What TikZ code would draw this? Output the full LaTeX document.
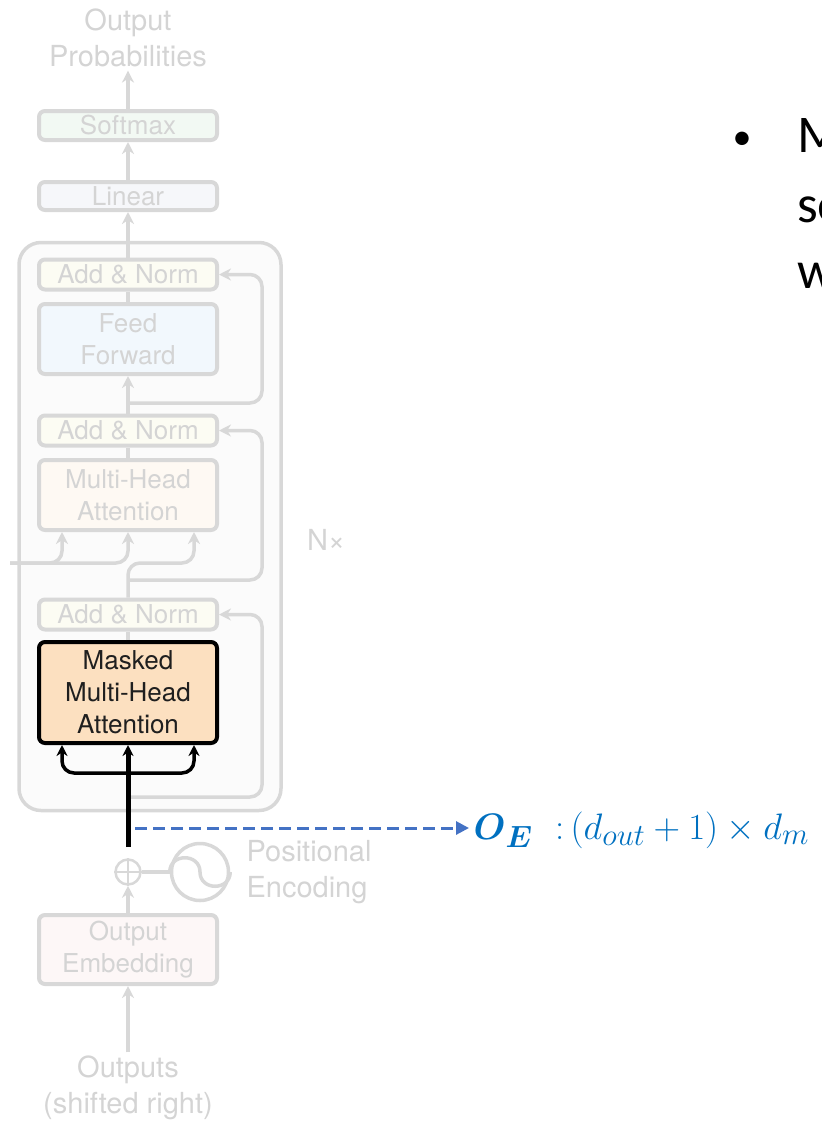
\documentclass[tikz,border=0pt]{standalone}
\usepackage{amsmath}
\usepackage{fontspec}
\newfontfamily\helv{TeX Gyre Heros}
\newfontfamily\cali{Carlito}
\usetikzlibrary{arrows.meta}

\definecolor{fadeline}{RGB}{216,216,216}
\definecolor{fadetext}{RGB}{212,212,212}
\definecolor{stackfill}{RGB}{251,251,251}
\definecolor{softfill}{RGB}{242,249,243}
\definecolor{linfill}{RGB}{246,247,250}
\definecolor{normfill}{RGB}{252,252,243}
\definecolor{ffnfill}{RGB}{242,248,253}
\definecolor{attfill}{RGB}{254,249,243}
\definecolor{embfill}{RGB}{253,247,247}
\definecolor{maskfill}{RGB}{252,224,192}
\definecolor{oeblue}{RGB}{0,112,192}
\definecolor{dashblue}{RGB}{68,114,196}

\begin{document}
\begin{tikzpicture}[x=1pt,y=-1pt,
    fbox/.style={draw=fadeline,line width=4pt,rounded corners=6pt,minimum width=178pt,
      inner sep=0pt,align=center,text=fadetext,font=\helv\fontsize{26}{32}\selectfont},
    ftext/.style={text=fadetext,align=center,font=\helv\fontsize{29}{36}\selectfont},
    fline/.style={draw=fadeline,line width=3.5pt,rounded corners=12pt},
    farrow/.style={fline,-{Stealth[length=12pt,width=12pt]}},
    barrow/.style={line width=3.5pt,rounded corners=12pt,-{Stealth[length=11pt,width=11pt]}}]
    \useasboundingbox (0,0) rectangle (822,1122);
    \clip (0,0) rectangle (822,1122);

    % decoder stack, faded
    \node[draw=fadeline,fill=stackfill,line width=3.5pt,rounded corners=22pt,
      minimum width=262pt,minimum height=568pt] (stack) at (150,526.5) {};
    \node[ftext] (probs) at (128,38) {Output\\Probabilities};
    \node[fbox,fill=softfill,minimum height=29pt] (softmax) at (128,125.5) {Softmax};
    \node[fbox,fill=linfill,minimum height=28pt] (linear) at (128,196) {Linear};
    \node[fbox,fill=normfill,minimum height=30pt] (normA) at (128,274.5) {Add \& Norm};
    \node[fbox,fill=ffnfill,minimum height=70pt] (ffn) at (128,339) {Feed\\Forward};
    \node[fbox,fill=normfill,minimum height=30pt] (normB) at (128,430.5) {Add \& Norm};
    \node[fbox,fill=attfill,minimum height=70pt] (mha) at (128,495) {Multi-Head\\Attention};
    \node[fbox,fill=normfill,minimum height=30pt] (normC) at (128,614.5) {Add \& Norm};
    \node[fbox,fill=maskfill,draw=black,line width=4pt,text=black!88,minimum height=101pt]
      (masked) at (128,692.5) {Masked\\Multi-Head\\Attention};
    \node[ftext] (nx) at (326,540) {N×};

    % embedding and positional encoding
    \node[draw=fadeline,circle,line width=2.5pt,minimum size=25pt,inner sep=0pt] (plus) at (128,872) {};
    \node[draw=fadeline,circle,line width=3.5pt,minimum size=57pt,inner sep=0pt] (wave) at (200,872) {};
    \node[ftext,align=left,anchor=west] (posenc) at (243,872) {Positional\\Encoding};
    \node[fbox,fill=embfill,minimum height=69pt] (embed) at (128,949.5) {Output\\Embedding};
    \node[ftext] (outputs) at (128,1088) {Outputs\\(shifted right)};

    \coordinate (resA) at (128,403);
    \coordinate (encin) at (10,563);
    \coordinate (bus) at (128,563);
    \coordinate (resB) at (128,580);
    \coordinate (resC) at (128,797);
    \coordinate (tap) at (128,847);
    \coordinate (fork) at (128,773);
    \coordinate (oetap) at (135,828);

    % faded connectors
    \draw[farrow] (softmax.north) -- (probs.south);
    \draw[farrow] (linear) -- (softmax);
    \draw[farrow] (normA) -- (linear);
    \draw[fline] (ffn) -- (normA);
    \draw[farrow] (normB) -- (ffn);
    \draw[farrow] (resA) -| ([xshift=43pt]normA.east) -- (normA.east);
    \draw[fline] (mha) -- (normB);
    \draw[farrow] (encin) -| ([xshift=-66pt]mha.south);
    \draw[farrow] (encin) -| (mha.south);
    \draw[farrow] (normC.north) -- (bus) -| ([xshift=66pt]mha.south);
    \draw[farrow] (resB) -| ([xshift=43pt]normB.east) -- (normB.east);
    \draw[fline] (masked) -- (normC);
    \draw[farrow] (resC) -| ([xshift=43pt]normC.east) -- (normC.east);
    \draw[fline,line width=2.5pt] (plus.north) -- (plus.south) (plus.west) -- (plus.east);
    \draw[fline] (plus.east) -- (wave.west);
    \draw[fadeline,line width=3.5pt] (wave.west) .. controls +(0,-19) and +(0,-19) .. (wave.center)
      .. controls +(0,19) and +(0,19) .. (wave.east);
    \draw[farrow] (embed.north) -- (plus.south);
    \draw[farrow] (outputs.north) -- (embed.south);

    % highlighted path
    \draw[barrow,line width=5pt] (tap) -- (masked.south);
    \draw[barrow] (fork) -| ([xshift=-66pt]masked.south);
    \draw[barrow] (fork) -| ([xshift=66pt]masked.south);

    % output of the embedding
    \node[anchor=west,inner sep=3pt,text=oeblue,font=\Huge,scale=1.48] (oe) at (469,830)
      {$\boldsymbol{O}_{\boldsymbol{E}}\ \ {:}\,(d_{out}+1)\times d_m$};
    \draw[dashblue,line width=3pt,dash pattern=on 12pt off 6pt,-{Triangle[length=13pt,width=13pt]}]
      (oetap) -- (oetap -| oe.west);

    % bullet text, cut at the edge
    \node[anchor=base,inner sep=0pt,font=\cali\fontsize{38}{68}\selectfont] (dot) at (742,149) {•};
    \node[anchor=base west,inner sep=0pt,font=\cali\fontsize{53}{68}\selectfont] (lineM) at (797,152) {M};
    \node[anchor=base west,inner sep=0pt,font=\cali\fontsize{53}{68}\selectfont] (lineS) at (797,222) {se};
    \node[anchor=base west,inner sep=0pt,font=\cali\fontsize{53}{68}\selectfont] (lineW) at (797,288) {w};
\end{tikzpicture}
\end{document}
